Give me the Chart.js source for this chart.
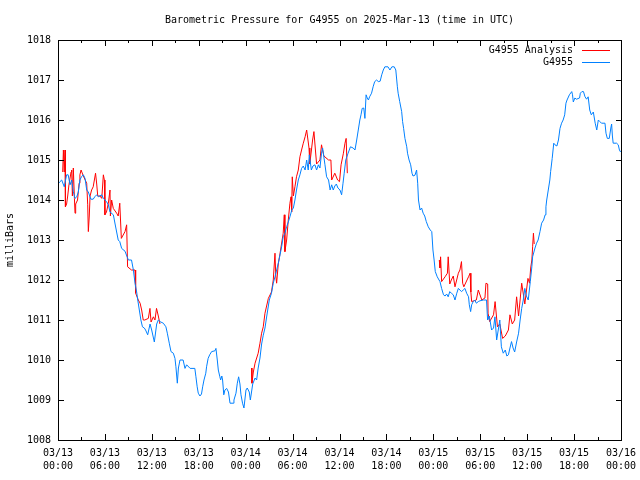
<!DOCTYPE html>
<html>
<head>
<meta charset="utf-8">
<title>Barometric Pressure for G4955</title>
<script src="https://cdn.jsdelivr.net/npm/chart.js@4/dist/chart.umd.min.js"></script>
<style>
  html, body { margin: 0; padding: 0; background: #fff; }
  canvas { display: block; }
</style>
</head>
<body>
<canvas id="pressure-chart" width="640" height="480"></canvas>
<script>
const chartTitle = 'Barometric Pressure for G4955 on 2025-Mar-13 (time in UTC)';
const dayLabels = ['03/13', '03/14', '03/15', '03/16'];
const seriesNames = ['G4955 Analysis', 'G4955'];

// hours since 03/13 00:00 UTC, pressure in mb
const stationTimes = [
  0.0, 0.26, 0.47, 0.8, 1.1, 1.3, 1.54, 1.75, 1.96, 2.18, 2.4, 2.6, 2.8, 3.0, 3.24, 3.46, 3.67, 3.88,
  4.2, 4.5, 4.7, 4.95, 5.16, 5.6, 5.8, 6.0, 6.2, 6.44, 6.65, 7.08, 7.3, 7.5, 7.7, 7.9, 8.14, 8.57,
  8.8, 9.0, 9.4, 9.64, 9.85, 10.06, 10.2, 10.36, 10.6, 10.8, 11.04, 11.2, 11.47, 11.77, 11.98, 12.32,
  12.62, 12.83, 13.04, 13.47, 13.8, 13.98, 14.23, 14.45, 14.75, 14.96, 15.08, 15.26, 15.4, 15.6, 16.0,
  16.24, 16.45, 16.9, 17.5, 17.64, 17.8, 17.94, 18.15, 18.35, 18.5, 18.67, 18.9, 19.0, 19.2, 19.4,
  19.65, 20.07, 20.2, 20.37, 20.5, 20.7, 20.8, 20.95, 21.05, 21.2, 21.35, 21.57, 21.8, 22.0, 22.4,
  22.5, 22.76, 22.93, 23.1, 23.27, 23.4, 23.6, 23.78, 24.04, 24.2, 24.46, 24.6, 24.9, 25.2, 25.4,
  25.6, 25.83, 26.04, 26.25, 26.47, 26.7, 27.02, 27.3, 27.53, 27.75, 27.96, 28.17, 28.4, 28.6, 28.8,
  29.02, 29.24, 29.45, 29.66, 29.9, 30.1, 30.3, 30.5, 30.73, 30.94, 31.15, 31.37, 31.6, 31.8, 32.0,
  32.14, 32.4, 32.6, 32.86, 33.07, 33.3, 33.5, 33.7, 33.84, 34.14, 34.35, 34.6, 34.8, 35.0, 35.2,
  35.4, 35.6, 35.8, 36.06, 36.27, 36.45, 36.6, 36.8, 37.1, 37.4, 37.75, 37.98, 38.2, 38.4, 38.6,
  38.75, 38.9, 39.1, 39.25, 39.4, 39.55, 39.7, 39.85, 40.1, 40.3, 40.5, 40.75, 40.96, 41.2, 41.4,
  41.6, 41.8, 42.2, 42.45, 42.7, 43.0, 43.2, 43.4, 43.5, 43.7, 43.95, 44.07, 44.2, 44.37, 44.6,
  44.7, 44.9, 45.1, 45.27, 45.4, 45.65, 45.86, 46.0, 46.1, 46.3, 46.5, 46.7, 46.9, 47.1, 47.35,
  47.6, 47.8, 47.95, 48.1, 48.25, 48.5, 48.85, 49.06, 49.3, 49.5, 49.7, 49.9, 50.1, 50.3, 50.55,
  50.77, 51.0, 51.2, 51.4, 51.6, 51.83, 52.04, 52.26, 52.5, 52.6, 52.77, 52.9, 53.1, 53.3, 53.5,
  53.75, 53.96, 54.4, 54.8, 54.94, 55.16, 55.45, 55.7, 55.88, 56.1, 56.3, 56.5, 56.7, 56.94, 57.2,
  57.4, 57.6, 57.8, 58.0, 58.2, 58.4, 58.65, 58.9, 59.1, 59.3, 59.5, 59.7, 59.9, 60.14, 60.4, 60.6,
  60.7, 61.0, 61.2, 61.4, 61.64, 61.85, 62.1, 62.3, 62.4, 62.5, 62.7, 62.9, 63.0, 63.2, 63.4, 63.55,
  63.8, 64.0, 64.2, 64.4, 64.6, 64.8, 64.96, 65.1, 65.4, 65.7, 65.8, 65.9, 66.1, 66.3, 66.7, 66.8,
  67.0, 67.2, 67.4, 67.6, 67.8, 68.0, 68.2, 68.46, 68.7, 68.9, 69.1, 69.3, 69.5, 69.95, 70.08,
  70.25, 70.5, 70.7, 70.8, 70.9, 71.0, 71.44, 71.65, 71.8, 71.95,
];
const stationValues = [
  1014.4, 1014.46, 1014.5, 1014.33, 1014.63, 1014.63, 1014.38, 1014.5, 1014.21, 1014.04, 1014.08, 1014.2, 1014.5, 1014.58, 1014.63, 1014.54, 1014.25, 1014.2,
  1014.02, 1014.02, 1014.08, 1014.13, 1014.08, 1014.13, 1014.04, 1014.0, 1013.96, 1013.88, 1013.7, 1013.63, 1013.4, 1013.2, 1013.0, 1012.96, 1012.79, 1012.72,
  1012.6, 1012.5, 1012.5, 1012.25, 1011.92, 1011.7, 1011.5, 1011.3, 1011.0, 1010.83, 1010.8, 1010.75, 1010.63, 1010.9, 1010.75, 1010.45,
  1010.9, 1011.0, 1010.96, 1010.92, 1010.83, 1010.67, 1010.42, 1010.21, 1010.17, 1010.04, 1009.83, 1009.42, 1009.8, 1010.0, 1010.0,
  1009.79, 1009.88, 1009.79, 1009.79, 1009.58, 1009.33, 1009.17, 1009.1, 1009.15, 1009.33, 1009.5, 1009.67, 1009.83, 1010.04, 1010.13,
  1010.21, 1010.23, 1010.29, 1010.0, 1009.75, 1009.58, 1009.5, 1009.6, 1009.5, 1009.13, 1009.25, 1009.29, 1009.2, 1008.92, 1008.92,
  1009.0, 1009.17, 1009.42, 1009.58, 1009.4, 1009.13, 1008.92, 1008.8, 1009.25, 1009.3, 1009.2, 1009.0, 1009.4, 1009.55, 1009.5,
  1009.8, 1010.05, 1010.4, 1010.62, 1010.8, 1011.1, 1011.5, 1011.67, 1011.92, 1012.08, 1012.25, 1012.42, 1012.63, 1012.83, 1013.08,
  1013.17, 1013.33, 1013.45, 1013.58, 1013.75, 1013.8, 1014.0, 1014.25, 1014.5, 1014.63, 1014.79, 1014.85, 1014.75, 1015.0, 1014.75,
  1015.13, 1014.75, 1014.85, 1014.88, 1014.75, 1014.88, 1014.8, 1015.17, 1015.3, 1014.88, 1014.58, 1014.5, 1014.25, 1014.38, 1014.25,
  1014.35, 1014.4, 1014.3, 1014.25, 1014.13, 1014.42, 1014.67, 1015.0, 1015.17, 1015.33, 1015.3, 1015.25, 1015.5, 1015.75, 1016.0,
  1016.13, 1016.29, 1016.3, 1016.04, 1016.63, 1016.55, 1016.5, 1016.58, 1016.67, 1016.83, 1016.96, 1017.0, 1016.96, 1016.97, 1017.13,
  1017.25, 1017.33, 1017.33, 1017.25, 1017.33, 1017.33, 1017.25, 1016.83, 1016.67, 1016.46, 1016.21, 1015.96, 1015.79, 1015.54, 1015.33,
  1015.17, 1015.0, 1014.88, 1014.67, 1014.6, 1014.62, 1014.75, 1014.42, 1014.0, 1013.75, 1013.8, 1013.67, 1013.6, 1013.46, 1013.33,
  1013.25, 1013.21, 1012.75, 1012.5, 1012.21, 1012.08, 1011.96, 1011.79, 1011.63, 1011.6, 1011.65, 1011.58, 1011.71, 1011.67, 1011.63,
  1011.5, 1011.67, 1011.79, 1011.75, 1011.71, 1011.75, 1011.79, 1011.67, 1011.58, 1011.38, 1011.21, 1011.38, 1011.46, 1011.5, 1011.42,
  1011.46, 1011.48, 1011.5, 1011.5, 1011.0, 1011.1, 1010.75, 1010.8, 1011.08, 1010.5, 1010.75, 1011.0, 1010.33, 1010.17, 1010.25,
  1010.1, 1010.13, 1010.3, 1010.46, 1010.3, 1010.2, 1010.45, 1010.67, 1011.0, 1011.29, 1011.5, 1011.79, 1011.6, 1011.5, 1011.96, 1012.33,
  1012.58, 1012.8, 1012.92, 1013.0, 1013.21, 1013.42, 1013.5, 1013.63, 1013.83, 1014.0, 1014.25, 1014.5, 1014.71, 1015.04, 1015.42, 1015.38,
  1015.35, 1015.5, 1015.79, 1015.92, 1016.0, 1016.13, 1016.42, 1016.5, 1016.63, 1016.71, 1016.63, 1016.45, 1016.55, 1016.52, 1016.55, 1016.67,
  1016.71, 1016.71, 1016.58, 1016.52, 1016.58, 1016.25, 1016.13, 1016.2, 1015.92, 1015.75, 1016.0, 1015.96, 1015.92, 1015.92, 1015.67,
  1015.54, 1015.54, 1015.8, 1015.9, 1015.6, 1015.42, 1015.42, 1015.38, 1015.25, 1015.2,
];

// analysis only exists in three windows; null breaks the line between them
const analysisTimes = [
  0.6, 0.69, 0.8, 0.9, 0.95, 1.1, 1.24, 1.4, 1.67, 1.75, 1.84, 1.96, 2.1, 2.18, 2.26, 2.5, 2.7, 2.8,
  2.95, 3.24, 3.67, 3.8, 3.88, 4.0, 4.1, 4.3, 4.5, 4.8, 4.95, 5.08, 5.37, 5.6, 5.8, 5.93, 6.0, 6.2,
  6.44, 6.65, 6.7, 6.86, 7.07, 7.5, 7.7, 7.9, 8.1, 8.57, 8.78, 8.9, 9.4, 9.85, 9.93, 10.27, 10.5,
  10.7, 10.9, 11.1, 11.55, 11.76, 11.9, 12.2, 12.4, 12.6, 12.83, 13.04,
  13.5,
  24.76, 24.8, 24.98, 25.2, 25.6, 25.83, 26.04, 26.25, 26.47, 26.9, 27.3, 27.53, 27.75, 27.85, 27.96,
  28.17, 28.4, 28.8, 28.94, 29.02, 29.24, 29.45, 29.66, 29.8, 29.88, 29.96, 30.1, 30.3, 30.5, 30.73,
  30.94, 31.15, 31.37, 31.6, 31.8, 32.1, 32.2, 32.56, 32.73, 32.9, 33.07, 33.5, 33.7, 34.0, 34.6,
  34.9, 35.0, 35.4, 35.76, 36.0, 36.2, 36.5, 36.7, 36.85, 37.0,
  37.5,
  48.76, 48.85, 48.93, 49.06, 49.5, 49.8, 49.9, 50.1, 50.3, 50.55, 50.77, 51.2, 51.4, 51.6, 51.75,
  51.9, 52.5, 52.7, 52.8, 52.9, 53.5, 53.75, 54.2, 54.6, 54.73, 54.95, 55.0, 55.2, 55.7, 55.9, 56.2,
  56.5, 56.86, 57.2, 57.6, 57.8, 58.1, 58.4, 58.65, 58.9, 59.3, 59.7, 60.1, 60.3, 60.45, 60.6, 60.7,
  60.8, 60.9,
];
const analysisValues = [
  1014.7, 1015.25, 1014.7, 1015.25, 1013.83, 1013.9, 1014.1, 1014.38, 1014.7, 1014.75, 1014.1, 1014.8, 1014.04, 1013.67, 1013.9, 1014.0, 1014.42, 1014.63,
  1014.75, 1014.6, 1014.42, 1013.88, 1013.21, 1013.6, 1014.1, 1014.25, 1014.33, 1014.67, 1014.4, 1014.1, 1014.1, 1014.04, 1014.63, 1014.5, 1013.63, 1013.7,
  1013.92, 1014.25, 1013.6, 1014.0, 1013.79, 1013.67, 1013.6, 1013.92, 1013.04, 1013.21, 1013.38, 1012.33, 1012.25, 1012.25, 1011.67, 1011.5, 1011.42,
  1011.25, 1011.0, 1011.0, 1011.04, 1011.29, 1010.95, 1011.08, 1011.0, 1011.29, 1011.1, 1010.9,
  null,
  1009.8, 1009.42, 1009.7, 1009.92, 1010.17, 1010.42, 1010.67, 1010.83, 1011.17, 1011.54, 1011.7, 1012.0, 1012.67, 1012.1, 1011.92,
  1012.4, 1012.67, 1013.17, 1013.63, 1012.71, 1013.0, 1013.5, 1013.92, 1014.08, 1013.7, 1014.58, 1014.1, 1014.33, 1014.58, 1014.75,
  1015.08, 1015.25, 1015.42, 1015.58, 1015.75, 1015.3, 1014.9, 1015.5, 1015.71, 1015.3, 1014.9, 1015.0, 1015.38, 1015.1, 1015.0,
  1015.0, 1014.5, 1014.67, 1014.5, 1014.46, 1014.88, 1015.17, 1015.42, 1015.54, 1014.67,
  null,
  1012.5, 1012.3, 1012.58, 1011.96, 1012.08, 1012.17, 1012.58, 1011.9, 1012.0, 1012.1, 1011.83, 1012.17, 1012.25, 1012.46, 1011.92,
  1011.83, 1012.08, 1012.17, 1011.7, 1011.46, 1011.5, 1011.75, 1011.5, 1011.55, 1011.92, 1011.9, 1011.17, 1010.96, 1011.13, 1011.46, 1010.83,
  1010.9, 1010.54, 1010.6, 1010.75, 1011.13, 1010.9, 1011.0, 1011.58, 1011.1, 1011.92, 1011.4, 1012.04, 1011.92, 1012.3, 1012.5, 1012.83,
  1013.17, 1012.9,
];

const FONT = "'DejaVu Sans Mono', monospace";
const RED = '#ff0000';
const BLUE = '#0080ff';

const toPoints = (times, values) => times.map((t, i) => ({ x: t, y: values[i] }));

// gnuplot style box, inward ticks, title and legend
const gnuplotFrame = {
  id: 'gnuplotFrame',
  afterDraw: (chart) => {
    const { ctx, chartArea, scales } = chart;
    const { left, right, top, bottom } = chartArea;
    const xs = scales.x;
    const ys = scales.y;

    ctx.save();
    ctx.strokeStyle = '#000';
    ctx.lineWidth = 1;
    ctx.strokeRect(left + 0.5, top + 0.5, right - left, bottom - top);

    ctx.beginPath();
    for (let h = 0; h <= 72; h += 3) {
      const px = Math.round(xs.getPixelForValue(h)) + 0.5;
      const len = h % 6 === 0 ? 6 : 3;
      ctx.moveTo(px, bottom);
      ctx.lineTo(px, bottom - len);
      ctx.moveTo(px, top);
      ctx.lineTo(px, top + len);
    }
    for (let v = 1008; v <= 1018; v += 1) {
      const py = Math.round(ys.getPixelForValue(v)) + 0.5;
      ctx.moveTo(left, py);
      ctx.lineTo(left + 6, py);
      ctx.moveTo(right + 1, py);
      ctx.lineTo(right - 5, py);
    }
    ctx.stroke();

    ctx.fillStyle = '#000';
    ctx.font = `10px ${FONT}`;
    ctx.textBaseline = 'middle';
    ctx.textAlign = 'center';
    ctx.fillText(chartTitle, (left + right) / 2, 20);

    const colors = [RED, BLUE];
    ctx.textAlign = 'right';
    seriesNames.forEach((name, i) => {
      const rowY = top + 10 + i * 12;
      ctx.fillStyle = '#000';
      ctx.fillText(name, right - 48, rowY);
      ctx.strokeStyle = colors[i];
      ctx.beginPath();
      ctx.moveTo(right - 39, rowY + 0.5);
      ctx.lineTo(right - 11, rowY + 0.5);
      ctx.stroke();
    });
    ctx.restore();
  },
};

new Chart(document.getElementById('pressure-chart'), {
  type: 'line',
  data: {
    datasets: [
      {
        label: seriesNames[0],
        data: toPoints(analysisTimes, analysisValues),
        borderColor: RED,
        borderWidth: 1,
        pointRadius: 0,
        spanGaps: false,
        order: 2,
      },
      {
        label: seriesNames[1],
        data: toPoints(stationTimes, stationValues),
        borderColor: BLUE,
        borderWidth: 1,
        pointRadius: 0,
        order: 1,
      },
    ],
  },
  options: {
    responsive: false,
    animation: false,
    devicePixelRatio: 1,
    layout: { padding: { top: 40, right: 19, left: 0, bottom: 0 } },
    elements: { line: { tension: 0 } },
    plugins: {
      legend: { display: false },
      tooltip: { enabled: false },
      title: { display: false },
    },
    scales: {
      x: {
        type: 'linear',
        min: 0,
        max: 72,
        grid: { display: false, drawTicks: false },
        border: { display: false },
        afterFit: (scale) => {
          scale.height = 40;
          scale.paddingLeft = 0;
          scale.paddingRight = 0;
        },
        ticks: {
          stepSize: 6,
          autoSkip: false,
          maxRotation: 0,
          padding: 7,
          color: '#000',
          font: { family: FONT, size: 10, lineHeight: 1.3 },
          callback: (v) => {
            const day = dayLabels[Math.floor(v / 24)];
            const hour = String(v % 24).padStart(2, '0') + ':00';
            return [day, hour];
          },
        },
      },
      y: {
        min: 1008,
        max: 1018,
        grid: { display: false, drawTicks: false },
        border: { display: false },
        afterFit: (scale) => {
          scale.width = 58;
          scale.paddingTop = 0;
          scale.paddingBottom = 0;
        },
        ticks: {
          stepSize: 1,
          padding: 7,
          color: '#000',
          font: { family: FONT, size: 10 },
          callback: (v) => String(v),
        },
        title: {
          display: true,
          text: 'milliBars',
          color: '#000',
          padding: { top: 4, bottom: 0 },
          font: { family: FONT, size: 10 },
        },
      },
    },
  },
  plugins: [gnuplotFrame],
});
</script>
</body>
</html>
